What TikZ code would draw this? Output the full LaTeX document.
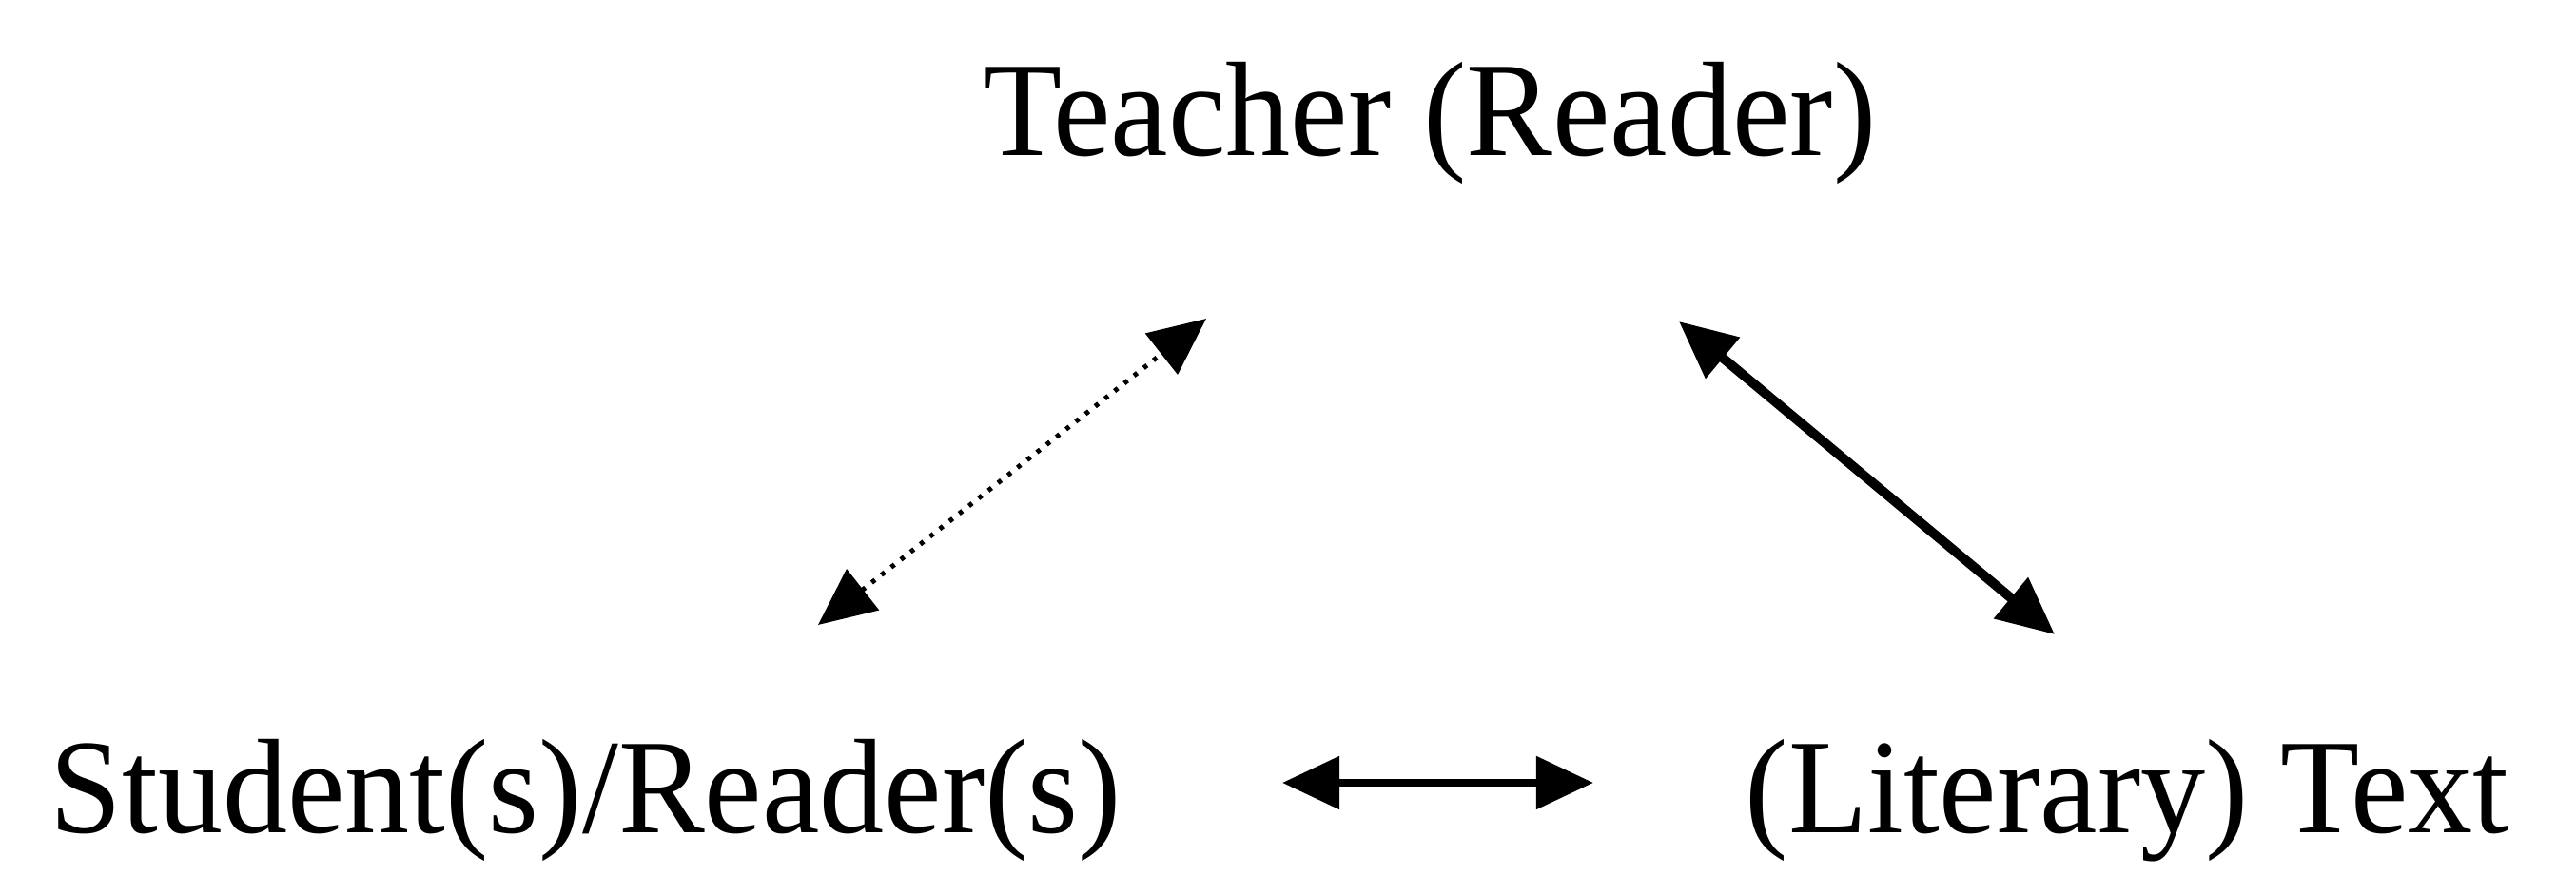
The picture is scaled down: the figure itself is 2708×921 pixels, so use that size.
\documentclass[tikz,border=0pt]{standalone}
\usepackage{fontspec}
\setmainfont{Liberation Serif}
\usetikzlibrary{arrows.meta}
\tikzset{
  lbl/.style={inner sep=0pt, anchor=base west, font=\fontsize{38.7pt}{46pt}\selectfont},
  tipstyle/.style={{Triangle[length=0.6cm,width=0.54cm]}-{Triangle[length=0.6cm,width=0.54cm]}},
  solidarrow/.style={tipstyle, line width=0.1cm},
  dotarrow/.style={tipstyle, line width=0.05cm, dash pattern=on 0.045cm off 0.085cm},
}
\begin{document}
\begin{tikzpicture}[x=0.01cm,y=0.01cm]
\useasboundingbox (0,0) rectangle (2708,921);
\node[lbl, yscale=1.04] (teacher) at (1033,757) {Teacher (Reader)};
\node[lbl, yscale=1.04] (student) at (52,45) {Student(s)/Reader(s)};
\node[lbl, yscale=1.04] (text) at (1834,45) {(Literary) Text};
% connector end points
\coordinate (d1) at (860,264);
\coordinate (d2) at (1268,586);
\coordinate (s1) at (1765,583);
\coordinate (s2) at (2160,254);
\coordinate (h1) at (1348,98);
\coordinate (h2) at (1675,98);
\draw[dotarrow] (d1) -- (d2);
\draw[solidarrow] (s1) -- (s2);
\draw[solidarrow, line width=0.085cm] (h1) -- (h2);
\end{tikzpicture}
\end{document}
